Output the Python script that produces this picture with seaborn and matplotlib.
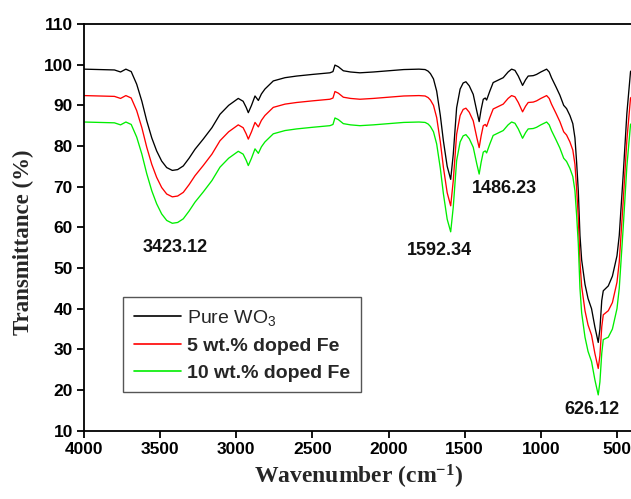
import numpy as np
import pandas as pd
import matplotlib
matplotlib.use("Agg")
import matplotlib.pyplot as plt
import seaborn as sns

wavenumber = [
    4000, 3900, 3800, 3760, 3725, 3690, 3654, 3620, 3588, 3555,
    3523, 3490, 3457, 3420, 3385, 3348, 3310, 3271, 3217, 3160,
    3107, 3050, 2987, 2955, 2935, 2921, 2900, 2877, 2855, 2835,
    2812, 2757, 2680, 2604, 2500, 2385, 2365, 2352, 2330, 2297,
    2250, 2188, 2100, 2000, 1900, 1800, 1760, 1740, 1725, 1705,
    1684, 1660, 1640, 1615, 1592, 1575, 1553, 1530, 1510, 1492,
    1470, 1444, 1420, 1405, 1392, 1378, 1365, 1356, 1335, 1313,
    1280, 1247, 1215, 1192, 1170, 1148, 1120, 1100, 1083, 1050,
    1028, 1000, 962, 945, 930, 900, 875, 850, 831, 809,
    790, 776, 765, 754, 743, 732, 710, 690, 667, 645,
    623, 612, 600, 590, 557, 530, 500, 485, 459, 435,
    411, 400,
]

pure_wo3 = [
    98.9, 98.8, 98.7, 98.2, 98.9, 98.3, 95.2, 91.0, 86.2, 82.0,
    78.8, 76.3, 74.7, 74.0, 74.2, 75.1, 77.0, 79.2, 81.7, 84.5,
    87.8, 90.0, 91.7, 91.0, 89.5, 88.2, 90.0, 92.3, 91.2, 92.8,
    94.0, 96.0, 96.8, 97.2, 97.6, 98.0, 98.3, 99.9, 99.5, 98.5,
    98.2, 98.0, 98.2, 98.5, 98.8, 98.9, 98.8, 98.4, 97.8, 96.5,
    93.5, 87.5, 81.3, 75.0, 71.8, 78.0, 89.4, 94.0, 95.5, 95.8,
    94.8, 92.7, 88.5, 86.0, 89.0, 91.5, 91.8, 91.3, 93.5, 95.6,
    96.2, 96.8, 98.2, 98.9, 98.6, 97.2, 94.9, 96.3, 97.2, 97.3,
    97.6, 98.2, 98.9, 98.2, 96.8, 94.5, 92.5, 90.0, 89.2, 87.5,
    85.5, 82.0, 76.0, 69.0, 58.0, 52.0, 46.0, 42.5, 40.0, 35.5,
    31.7, 35.0, 42.0, 44.4, 45.6, 48.0, 53.0, 58.0, 73.0, 88.0,
    98.3, 98.7,
]

fe_5 = [
    92.4, 92.3, 92.2, 91.7, 92.4, 91.8, 88.7, 84.5, 79.7, 75.5,
    72.3, 69.8, 68.2, 67.5, 67.7, 68.6, 70.5, 72.7, 75.2, 78.0,
    81.3, 83.5, 85.2, 84.5, 83.0, 81.7, 83.5, 85.8, 84.7, 86.3,
    87.5, 89.5, 90.3, 90.7, 91.1, 91.5, 91.8, 93.4, 93.0, 92.0,
    91.7, 91.5, 91.7, 92.0, 92.3, 92.4, 92.3, 91.9, 91.3, 90.0,
    87.0, 81.0, 74.8, 68.5, 65.3, 71.5, 82.9, 87.5, 89.0, 89.3,
    88.3, 86.2, 82.0, 79.6, 82.5, 85.0, 85.3, 84.8, 87.0, 89.1,
    89.7, 90.3, 91.7, 92.4, 92.1, 90.7, 88.4, 89.8, 90.7, 90.8,
    91.1, 91.7, 92.4, 91.7, 90.3, 88.0, 86.0, 83.5, 82.7, 81.0,
    79.0, 75.5, 69.5, 62.5, 51.5, 45.5, 39.5, 36.0, 33.5, 29.0,
    25.3, 28.5, 35.5, 38.5, 39.5, 41.5, 46.5, 51.5, 66.5, 81.5,
    91.8, 92.2,
]

fe_10 = [
    85.9, 85.8, 85.7, 85.2, 85.9, 85.3, 82.2, 78.0, 73.2, 69.0,
    65.8, 63.3, 61.7, 61.0, 61.2, 62.1, 64.0, 66.2, 68.7, 71.5,
    74.8, 77.0, 78.7, 78.0, 76.5, 75.2, 77.0, 79.3, 78.2, 79.8,
    81.0, 83.0, 83.8, 84.2, 84.6, 85.0, 85.3, 86.9, 86.5, 85.5,
    85.2, 85.0, 85.2, 85.5, 85.8, 85.9, 85.8, 85.4, 84.8, 83.5,
    80.5, 74.5, 68.3, 62.0, 58.9, 65.0, 76.4, 81.0, 82.5, 82.8,
    81.8, 79.7, 75.5, 73.1, 76.0, 78.5, 78.8, 78.3, 80.5, 82.6,
    83.2, 83.8, 85.2, 85.9, 85.6, 84.2, 81.9, 83.3, 84.2, 84.3,
    84.6, 85.2, 85.9, 85.2, 83.8, 81.5, 79.5, 77.0, 76.2, 74.5,
    72.5, 69.0, 63.0, 56.0, 45.0, 39.0, 33.0, 29.5, 27.0, 22.5,
    18.8, 22.0, 29.0, 32.4, 33.0, 35.0, 40.0, 45.0, 60.0, 75.0,
    85.3, 85.7,
]

series_names = ["Pure WO$_3$", "5 wt.% doped Fe", "10 wt.% doped Fe"]
series_colors = ["#000000", "#ff0000", "#00ee00"]

peak_labels = ["3423.12", "1592.34", "1486.23", "626.12"]
peak_label_x = [3402, 1663, 1236, 665]
peak_label_y = [55.0, 54.2, 69.5, 15.2]

x_ticks = [4000, 3500, 3000, 2500, 2000, 1500, 1000, 500]
y_ticks = [10, 20, 30, 40, 50, 60, 70, 80, 90, 100, 110]

sns.set_style("ticks")
plt.rcParams["font.family"] = ["Liberation Sans", "DejaVu Sans"]
plt.rcParams["mathtext.default"] = "regular"

frames = []
for name, vals in zip(series_names, [pure_wo3, fe_5, fe_10]):
    frames.append(pd.DataFrame({"Wavenumber": wavenumber, "T": vals, "sample": name}))
df = pd.concat(frames, ignore_index=True)

fig = plt.figure(figsize=(6.31, 4.99), dpi=100)
ax = fig.add_axes([84 / 631, 1 - 430.7 / 499, 548.2 / 631, 406.7 / 499])

sns.lineplot(data=df, x="Wavenumber", y="T", hue="sample",
             palette=dict(zip(series_names, series_colors)),
             hue_order=series_names, estimator=None, sort=True,
             linewidth=0.95, ax=ax)

ax.set_xlim(4000, 400)
ax.set_ylim(10, 110)
ax.set_xticks(x_ticks)
ax.set_yticks(y_ticks)
ax.tick_params(axis="both", direction="out", length=5, width=1.3, pad=3,
               labelsize=12.5, colors="black")
for lab in ax.get_xticklabels() + ax.get_yticklabels():
    lab.set_fontweight("bold")

for side in ["left", "bottom", "top"]:
    ax.spines[side].set_linewidth(1.3)
    ax.spines[side].set_color("black")
ax.spines["right"].set_visible(False)

ax.set_xlabel("Wavenumber (cm$^{-1}$)", family=["Liberation Serif"],
              fontweight="bold", fontsize=17, labelpad=4)
ax.set_ylabel("Transmittance (%)", family=["Liberation Serif"],
              fontweight="bold", fontsize=16.5)
ax.yaxis.set_label_coords(-0.092, 0.463)

for txt, xx, yy in zip(peak_labels, peak_label_x, peak_label_y):
    ax.text(xx, yy, txt, ha="center", va="center", fontsize=13,
            fontweight="bold", color="#111111")

handles, labels = ax.get_legend_handles_labels()
leg = ax.legend(handles, labels, loc="upper left",
                bbox_to_anchor=(123 / 631, 1 - 297 / 499),
                bbox_transform=fig.transFigure, borderaxespad=0,
                fontsize=14, handlelength=2.42, handletextpad=0.31,
                labelspacing=0.48, borderpad=0.55, frameon=True,
                fancybox=False, framealpha=1, edgecolor="#555555")
leg.get_frame().set_linewidth(1.0)
for i, t in enumerate(leg.get_texts()):
    t.set_fontweight("normal" if i == 0 else "bold")
for h in leg.get_lines():
    h.set_linewidth(1.2)

fig.savefig("out.png", dpi=100)
